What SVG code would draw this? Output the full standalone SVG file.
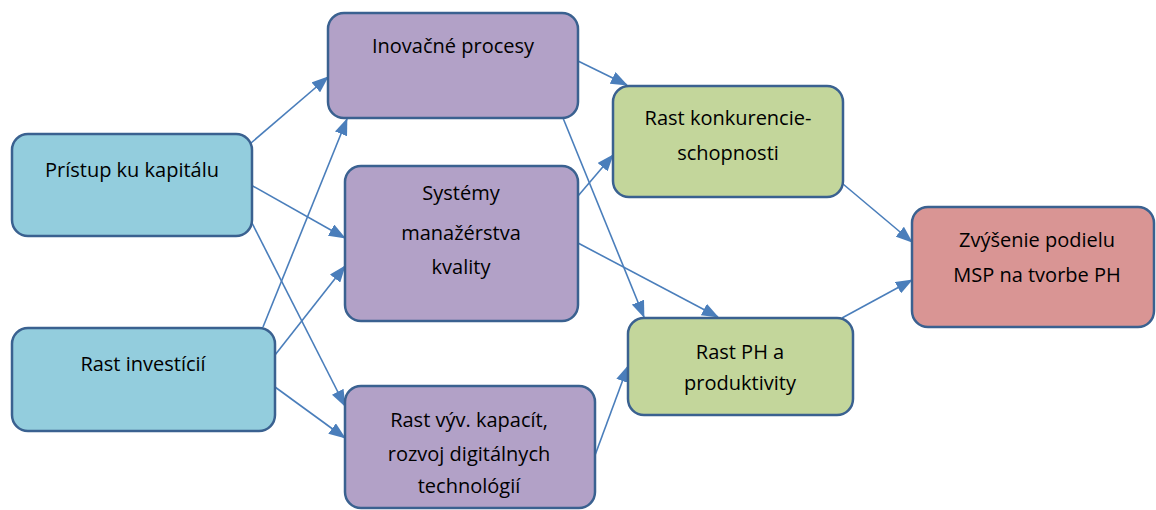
<svg xmlns="http://www.w3.org/2000/svg" width="1156" height="510" viewBox="0 0 1156 510">
<defs>
<style>
.n{stroke:#3A6190;stroke-width:2.5}
.b{fill:#93CDDD}.p{fill:#B2A1C7}.g{fill:#C3D69B}.r{fill:#D99594}
.t{font-family:"Open Sans","Liberation Sans",Arial,sans-serif;font-size:20px;fill:#000;text-anchor:middle}
.c line{stroke:#4A7EBB;stroke-width:1.6;marker-end:url(#ah)}
</style>
<marker id="ah" markerUnits="userSpaceOnUse" markerWidth="17" markerHeight="13" refX="16" refY="6.5" orient="auto" viewBox="0 0 17 13">
<path d="M0,0 L17,6.5 L0,13 z" fill="#4A7EBB"/>
</marker>
</defs>
<rect width="1156" height="510" fill="#fff"/>
<g class="c" id="connectors">
<line x1="251" y1="143" x2="328" y2="77"/>
<line x1="251" y1="185" x2="345" y2="238"/>
<line x1="252" y1="223" x2="345" y2="406"/>
<line x1="263" y1="327" x2="347" y2="119"/>
<line x1="275" y1="355" x2="345" y2="266"/>
<line x1="275" y1="387" x2="345" y2="438"/>
<line x1="578" y1="61" x2="627" y2="85"/>
<line x1="563" y1="118" x2="644" y2="317"/>
<line x1="578" y1="196" x2="613" y2="155"/>
<line x1="578" y1="243" x2="718" y2="317"/>
<line x1="594" y1="458" x2="628" y2="366"/>
<line x1="843" y1="184" x2="912" y2="242"/>
<line x1="842" y1="318" x2="912" y2="280"/>
</g>
<g id="pristup"><rect class="n b" x="12" y="134" width="240" height="102" rx="16"/><text class="t" x="132" y="177">Prístup ku kapitálu</text></g>
<g id="investicie"><rect class="n b" x="12" y="328" width="263" height="103" rx="16"/><text class="t" x="143" y="371">Rast investícií</text></g>
<g id="inovacne"><rect class="n p" x="328" y="13" width="250" height="105" rx="16"/><text class="t" x="453" y="53">Inovačné procesy</text></g>
<g id="systemy"><rect class="n p" x="345" y="166" width="233" height="155" rx="16"/><text class="t" x="461" y="200">Systémy</text><text class="t" x="461" y="240">manažérstva</text><text class="t" x="461" y="274">kvality</text></g>
<g id="vyvoj"><rect class="n p" x="345" y="386" width="250" height="122" rx="16"/><text class="t" x="469" y="427">Rast výv. kapacít,</text><text class="t" x="469" y="461">rozvoj digitálnych</text><text class="t" x="469" y="493">technológií</text></g>
<g id="konk"><rect class="n g" x="613" y="86" width="230" height="111" rx="16"/><text class="t" x="728" y="125">Rast konkurencie-</text><text class="t" x="728" y="160">schopnosti</text></g>
<g id="ph"><rect class="n g" x="628" y="318" width="225" height="97" rx="16"/><text class="t" x="740" y="359">Rast PH a</text><text class="t" x="740" y="390">produktivity</text></g>
<g id="zvysenie"><rect class="n r" x="912" y="207" width="242" height="120" rx="16"/><text class="t" x="1037" y="247">Zvýšenie podielu</text><text class="t" x="1037" y="282">MSP na tvorbe PH</text></g>
</svg>
